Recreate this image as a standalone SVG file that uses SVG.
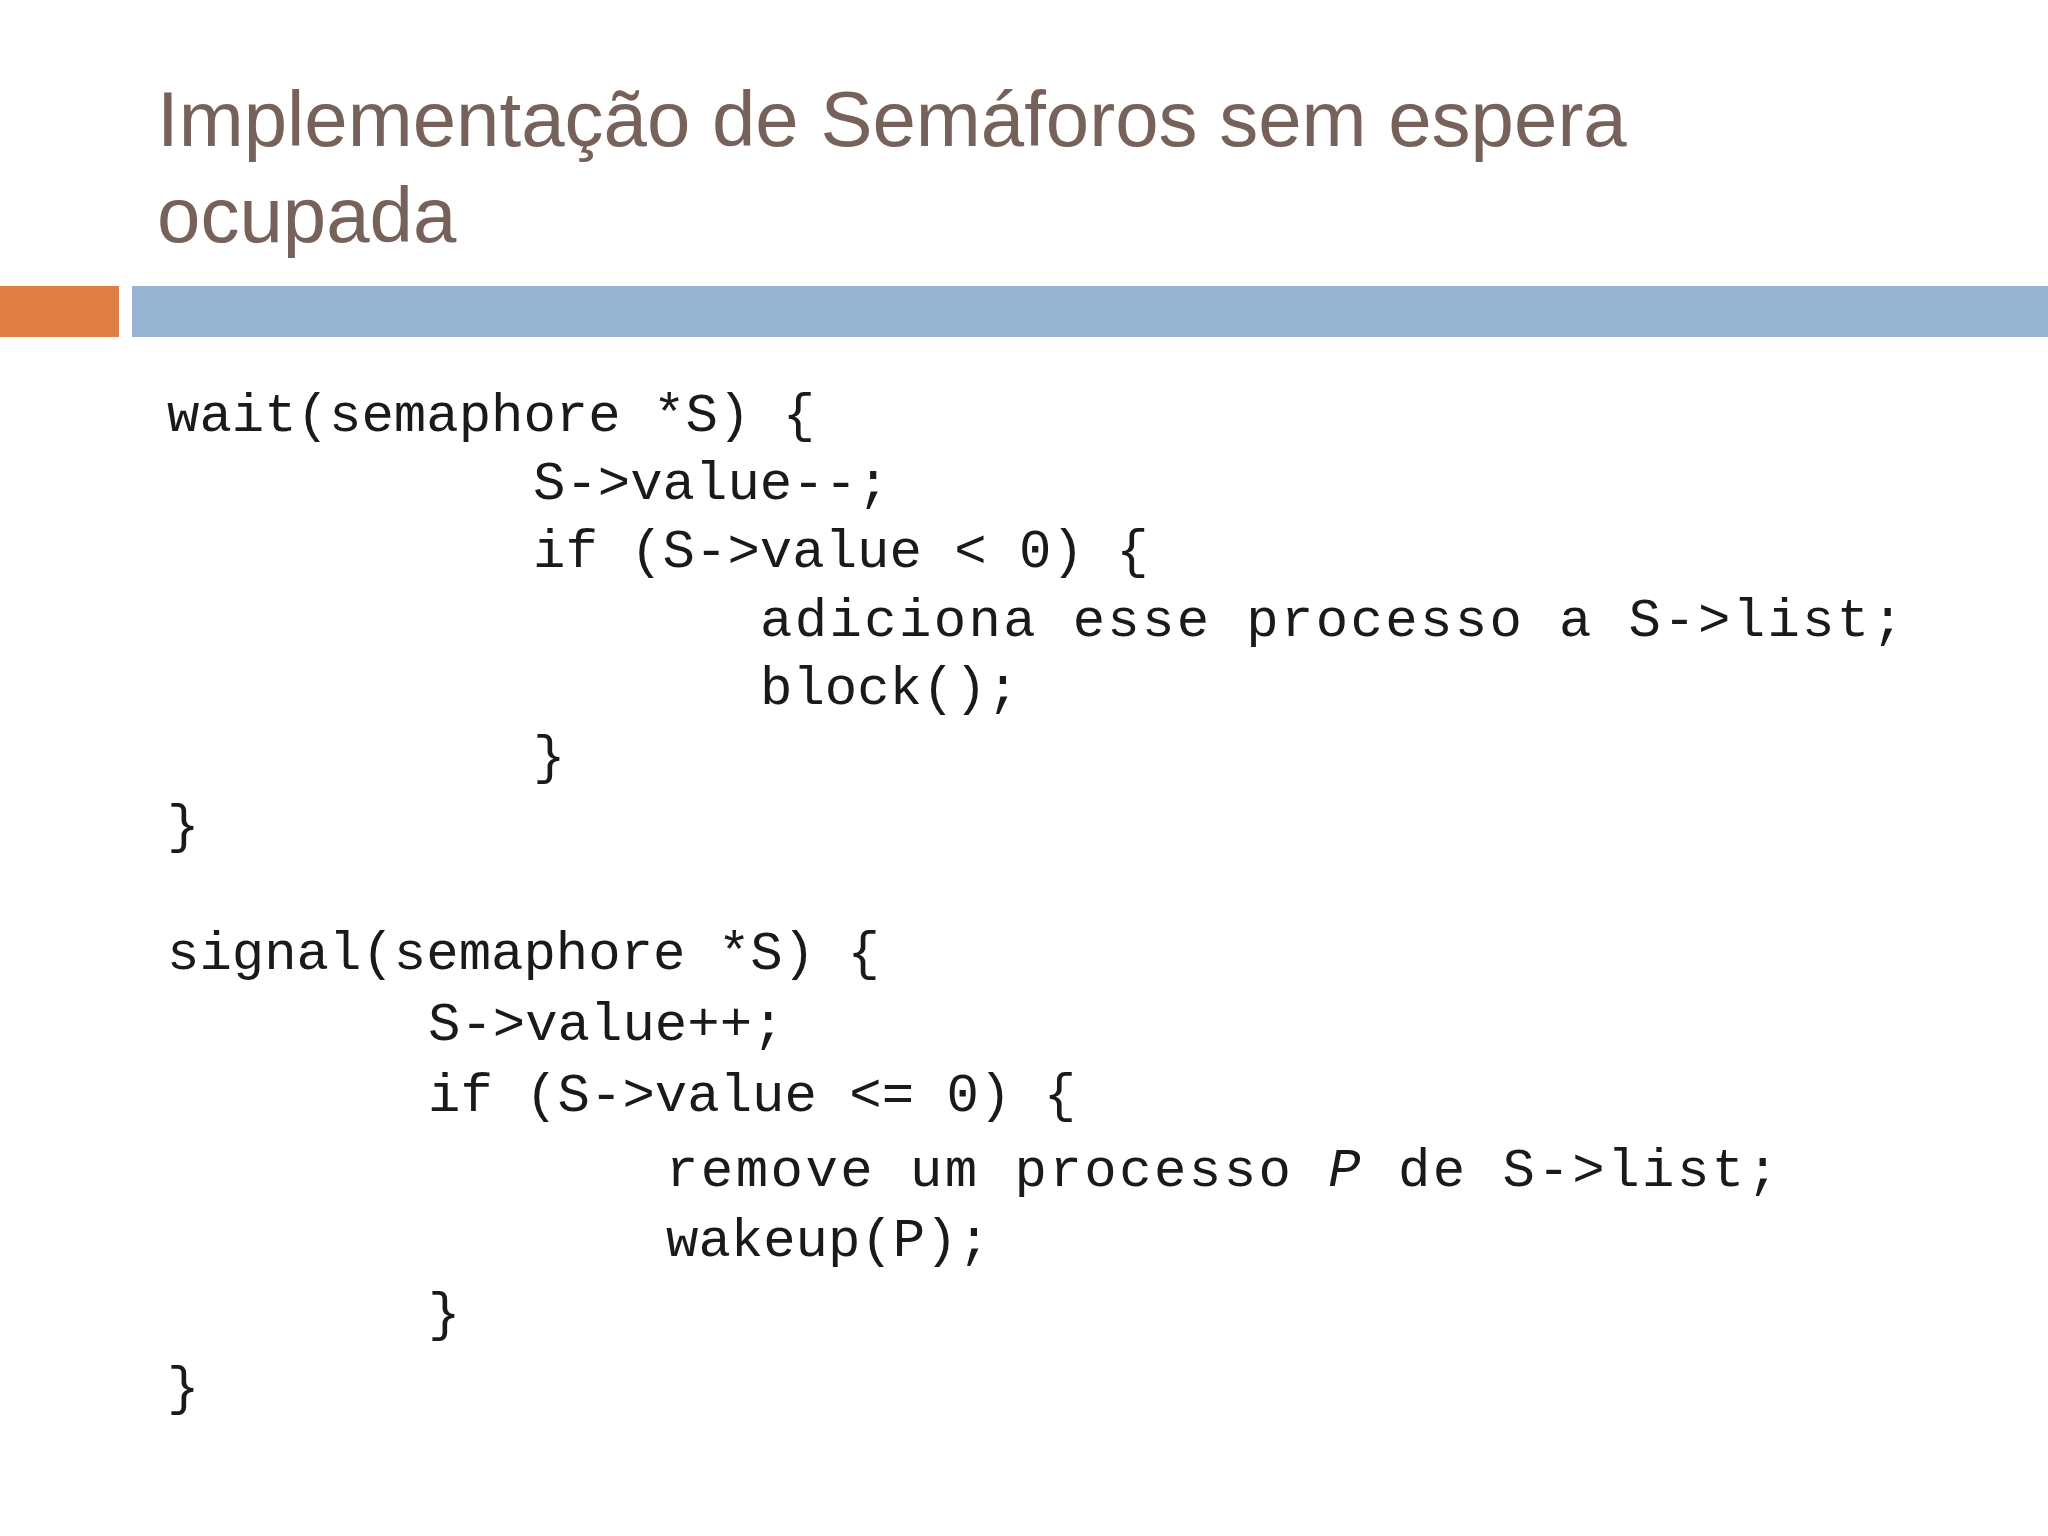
<svg xmlns="http://www.w3.org/2000/svg" width="2048" height="1536" viewBox="0 0 2048 1536">
<style>
.t{font-family:"Liberation Sans",Arial,sans-serif;font-size:78px;fill:#76625a}
.c{font-family:"Liberation Mono","DejaVu Sans Mono",monospace;font-size:54px;fill:#1a1a1a}
</style>
<rect width="2048" height="1536" fill="#fff"/>
<g id="title">
<text class="t" x="157" y="146">Implementação de Semáforos sem espera</text>
<text class="t" x="157" y="242">ocupada</text>
</g>
<g id="bars">
<rect x="0" y="286" width="119" height="51" fill="#e07f45"/>
<rect x="132" y="286" width="1916" height="51" fill="#97b5d2"/>
</g>
<g id="code">
<text class="c" x="167" y="431">wait(semaphore *S) {</text>
<text class="c" x="533" y="499">S-&gt;value--;</text>
<text class="c" x="533" y="567">if (S-&gt;value &lt; 0) {</text>
<text class="c" x="760" y="636" textLength="1144" lengthAdjust="spacing">adiciona esse processo a S-&gt;list;</text>
<text class="c" x="760" y="704">block();</text>
<text class="c" x="533" y="773">}</text>
<text class="c" x="167" y="842">}</text>
<text class="c" x="167" y="969">signal(semaphore *S) {</text>
<text class="c" x="428" y="1040">S-&gt;value++;</text>
<text class="c" x="428" y="1111">if (S-&gt;value &lt;= 0) {</text>
<text class="c" x="666" y="1186" textLength="1113" lengthAdjust="spacing">remove um processo <tspan font-style="italic">P</tspan> de S-&gt;list;</text>
<text class="c" x="666" y="1256">wakeup(P);</text>
<text class="c" x="428" y="1330">}</text>
<text class="c" x="167" y="1404">}</text>
</g>
</svg>
